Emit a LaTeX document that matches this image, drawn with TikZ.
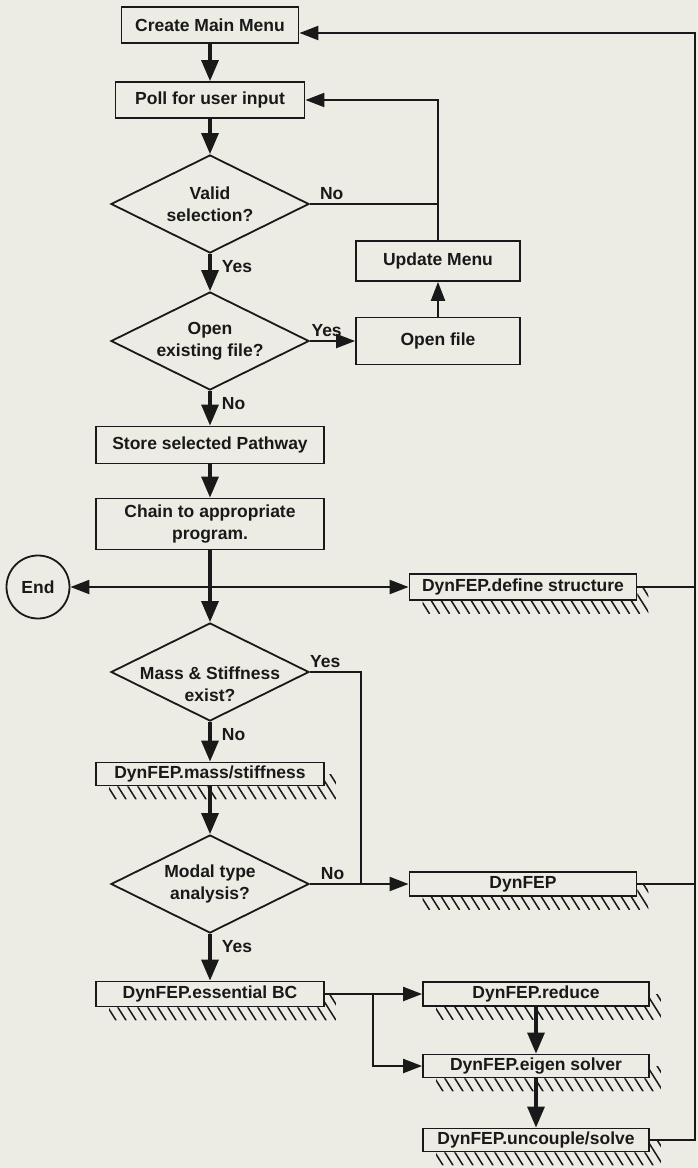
\documentclass[tikz,border=0pt]{standalone}
\usepackage{fontspec}
\setmainfont{Liberation Sans}
\usetikzlibrary{arrows.meta, calc, shapes.geometric}
\definecolor{paper}{RGB}{236,236,228}
\definecolor{ink}{RGB}{25,25,25}

% hatched shadow under a program box
\newcommand{\hatchbox}[1]{%
  \begin{scope}
    \clip ($(#1.south west)+(14,0)$) -- (#1.south east) -- (#1.east) -- ($(#1.east)+(11,0)$)
      -- ($(#1.south east)+(11,13)$) -- ($(#1.south west)+(14,13)$) -- cycle;
    \foreach \i in {0,...,26}
      \draw[hatch] ($(#1.south west)+(4+10*\i,-14)$) -- ++(17,27);
  \end{scope}}

\begin{document}
\begin{tikzpicture}[x=1pt, y=-1pt, color=ink, >={Triangle[length=19pt,width=14pt]},
    font=\fontsize{17.5}{22}\selectfont\bfseries,
    box/.style={draw, line width=1.8pt, inner sep=2pt, align=center},
    decision/.style={diamond, draw, line width=1.8pt, aspect=2, minimum width=198pt,
      minimum height=98pt, inner sep=0pt, align=center},
    terminal/.style={circle, draw, line width=1.8pt, minimum size=63pt, inner sep=0pt},
    flow/.style={line width=3.2pt, -{Triangle[length=21pt,width=17pt]}},
    link/.style={line width=2.2pt},
    hatch/.style={line width=1.5pt}]
    \fill[paper] (0,0) rectangle (698,1168);
    \useasboundingbox (0,0) rectangle (698,1168);

    % main column
    \node[box, minimum width=177pt, minimum height=36pt] (cmm) at (210,25) {Create Main Menu};
    \node[box, minimum width=189pt, minimum height=36pt] (poll) at (210,100) {Poll for user input};
    \node[decision] (valid) at (210,204) {Valid\\selection?};
    \node[decision] (open) at (210,341) {Open\\existing file?};
    \node[box, minimum width=228pt, minimum height=37pt] (store) at (210,445) {Store selected Pathway};
    \node[box, minimum width=228pt, minimum height=51pt] (chain) at (210,524) {Chain to appropriate\\program.};
    \node[decision, label={[align=center, yshift=-12pt]center:Mass \& Stiffness\\exist?}] (mass) at (210,672) {};
    \node[box, minimum width=228pt, minimum height=23pt] (massstiff) at (210,774) {DynFEP.mass/stiffness};
    \node[decision] (modal) at (210,884) {Modal type\\analysis?};
    \node[box, minimum width=228pt, minimum height=25pt] (essbc) at (210,994) {DynFEP.essential BC};

    % side boxes
    \node[box, minimum width=164pt, minimum height=40pt] (update) at (438,261) {Update Menu};
    \node[box, minimum width=164pt, minimum height=47pt] (openfile) at (438,341) {Open file};
    \node[terminal] (finish) at (38,587) {End};
    \node[box, minimum width=227pt, minimum height=26pt] (define) at (523,587) {DynFEP.define structure};
    \node[box, minimum width=227pt, minimum height=24pt] (dynfep) at (523,884) {DynFEP};
    \node[box, minimum width=226pt, minimum height=24pt] (reduce) at (536,994) {DynFEP.reduce};
    \node[box, minimum width=226pt, minimum height=23pt] (eigen) at (536,1066) {DynFEP.eigen solver};
    \node[box, minimum width=226pt, minimum height=23pt] (uncouple) at (536,1140) {DynFEP.uncouple/solve};

    \coordinate (rtop) at (695,33);
    \coordinate (ybus) at (361,672);
    \coordinate (split) at (373,994);

    % shadows
    \hatchbox{define}
    \hatchbox{massstiff}
    \hatchbox{dynfep}
    \hatchbox{essbc}
    \hatchbox{reduce}
    \hatchbox{eigen}
    \hatchbox{uncouple}

    % downward flow
    \draw[flow] (cmm) -- (poll);
    \draw[flow] (poll) -- (valid);
    \draw[flow] (valid) -- node[right=7pt, pos=0.35] {Yes} (open);
    \draw[flow] (open) -- node[right=7pt, pos=0.37] {No} (store);
    \draw[flow] (store) -- (chain);
    \draw[flow] (chain) -- (mass);
    \draw[flow] (mass) -- node[right=7pt, pos=0.33] {No} (massstiff);
    \draw[flow] (massstiff) -- (modal);
    \draw[flow] (modal) -- node[right=7pt, pos=0.27] {Yes} (essbc);
    \draw[flow] (reduce) -- (eigen);
    \draw[flow] (eigen) -- (uncouple);

    % branches
    \draw[link] (valid.east) -- node[above, pos=0.17] {No} (valid.east -| update.north);
    \draw[link, ->] (update.north) |- (poll.east);
    \draw[link, ->] (open) -- node[above, pos=0.37] {Yes} (openfile);
    \draw[link, ->] (openfile) -- (update);
    \draw[link, <->] (finish) -- (define);
    \draw[link] (define) -- (define -| rtop);
    \draw[link] (dynfep) -- (dynfep -| rtop);
    \draw[link, ->] (uncouple) -| (rtop) -- (cmm.east |- rtop);
    \draw[link] (mass.east) -- node[above, pos=0.3] {Yes} (ybus) -- (ybus |- dynfep.west);
    \draw[link, ->] (modal) -- node[above, pos=0.23] {No} (dynfep);
    \draw[link, ->] (essbc) -- (reduce);
    \draw[link, ->] (split) |- (eigen);
\end{tikzpicture}
\end{document}
